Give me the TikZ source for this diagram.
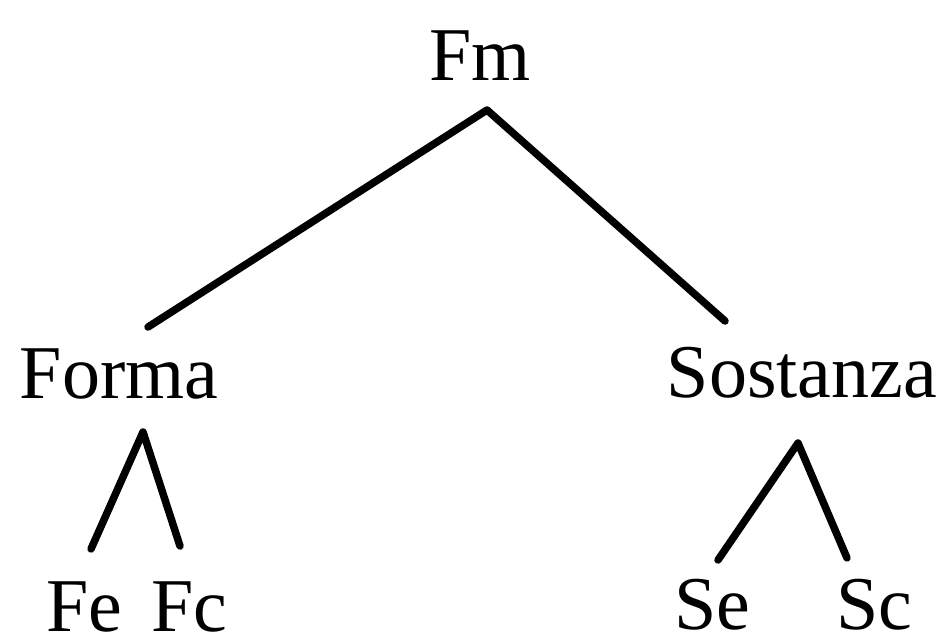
\documentclass[tikz,border=0pt]{standalone}
\usepackage{fontspec}
\setmainfont{Liberation Serif}
\begin{document}
\begin{tikzpicture}[x=1pt,y=-1pt,
  lbl/.style={anchor=base,inner sep=0pt,text depth=0pt,font=\fontsize{76}{80}\selectfont},
  edge/.style={line width=7.5pt,line cap=round,line join=round}]
\useasboundingbox (0,0) rectangle (939,641);
\node[lbl] (fm) at (480,80) {Fm};
\node[lbl] (forma) at (119,398) {Forma};
\node[lbl] (sost) at (802,397) {Sostanza};
\node[lbl] (fe) at (84,631) {Fe};
\node[lbl] (fc) at (189,631) {Fc};
\node[lbl] (se) at (712,629) {Se};
\node[lbl] (sc) at (874,629) {Sc};
\coordinate (a0) at (487,110);
\coordinate (a0l) at (148,327);
\coordinate (a0r) at (725,321);
\coordinate (a1) at (143,432);
\coordinate (a1l) at (91,549);
\coordinate (a1r) at (180,546);
\coordinate (a2) at (798,443);
\coordinate (a2l) at (718,560);
\coordinate (a2r) at (847,558);
\draw[edge] (a0l) -- (a0) -- (a0r);
\draw[edge] (a1l) -- (a1) -- (a1r);
\draw[edge] (a2l) -- (a2) -- (a2r);
\end{tikzpicture}
\end{document}
